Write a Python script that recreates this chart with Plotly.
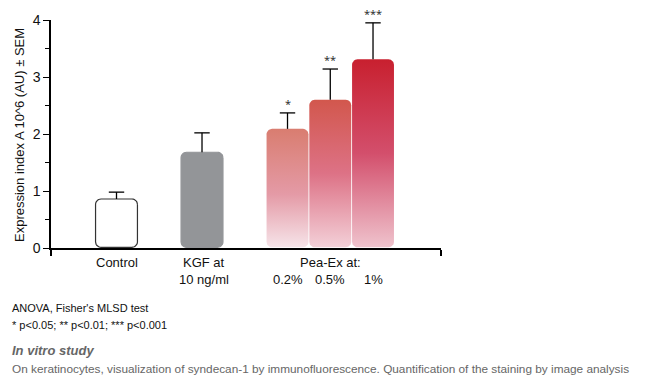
import plotly.graph_objects as go
import numpy as np

# ---- data ----
categories = ["Control", "KGF at 10 ng/ml", "Pea-Ex at 0.2%", "Pea-Ex at 0.5%", "Pea-Ex at 1%"]
values = [0.86, 1.68, 2.09, 2.60, 3.31]
sem = [0.12, 0.34, 0.28, 0.54, 0.64]
signif = ["", "", "*", "**", "***"]
y_ticks = [0, 1, 2, 3, 4]

# ---- layout constants ----
positions = [0.0, 1.0, 2.0, 2.5, 3.0]
bar_w = 0.49
x_range = [-0.766, 3.795]
y_range = [0, 4]
plot_w_px, plot_h_px = 390, 228
rx = 5.5 * (x_range[1] - x_range[0]) / plot_w_px
ry = 5.5 * (y_range[1] - y_range[0]) / plot_h_px

fills = [
    dict(kind="solid", color="white", line="#333333"),
    dict(kind="solid", color="#939598", line="#939598"),
    dict(kind="grad", scale=[[0, "#f6e4e9"], [0.45, "#e49aa6"], [1, "#d97d70"]]),
    dict(kind="grad", scale=[[0, "#f3d0d8"], [0.5, "#dd7286"], [1, "#d2574d"]]),
    dict(kind="grad", scale=[[0, "#efc3cd"], [0.5, "#d34f6c"], [1, "#c8202f"]]),
]


def rounded_rect(x0, x1, y0, y1, rx, ry, n=8):
    xs, ys = [], []
    corners = [
        (x1 - rx, y1 - ry, 0, 90),
        (x0 + rx, y1 - ry, 90, 180),
        (x0 + rx, y0 + ry, 180, 270),
        (x1 - rx, y0 + ry, 270, 360),
    ]
    for cx, cy, a0, a1 in corners:
        for t in np.linspace(np.radians(a0), np.radians(a1), n):
            xs.append(cx + rx * np.cos(t))
            ys.append(cy + ry * np.sin(t))
    xs.append(xs[0])
    ys.append(ys[0])
    return xs, ys


fig = go.Figure()

for i, (cat, v) in enumerate(zip(categories, values)):
    xc = positions[i]
    xs, ys = rounded_rect(xc - bar_w / 2, xc + bar_w / 2, 0.012, v, rx, ry)
    f = fills[i]
    if f["kind"] == "solid":
        fig.add_trace(go.Scatter(
            x=xs, y=ys, mode="lines", fill="toself", fillcolor=f["color"],
            line=dict(color=f["line"], width=1.2), name=cat,
            hoverinfo="skip", showlegend=False))
    else:
        fig.add_trace(go.Scatter(
            x=xs, y=ys, mode="lines", fill="toself",
            fillgradient=dict(type="vertical", colorscale=f["scale"]),
            line=dict(width=0), name=cat, hoverinfo="skip", showlegend=False))

# error bars (upper only, no cap at the bar top)
ex, ey = [], []
for xc, v, s in zip(positions, values, sem):
    ex += [xc, xc, None]
    ey += [v, v + s, None]
fig.add_trace(go.Scatter(x=ex, y=ey, mode="lines", line=dict(color="black", width=1.3),
                         showlegend=False, hoverinfo="skip"))
fig.add_trace(go.Scatter(
    x=positions, y=[v + s for v, s in zip(values, sem)], mode="markers",
    marker=dict(symbol="line-ew-open", size=11, color="black",
                line=dict(color="black", width=1.3)),
    showlegend=False, hoverinfo="skip"))

annotations = []
# significance stars
for xc, v, s, sg in zip(positions, values, sem, signif):
    if sg:
        annotations.append(dict(x=xc, y=v + s, xref="x", yref="y", text=sg,
                                showarrow=False, yanchor="bottom", yshift=0,
                                font=dict(size=11, color="#222")))

sans = "Liberation Sans, Arial, sans-serif"
label_font = dict(family=sans, size=13, color="#111")
# category labels
annotations.append(dict(x=positions[0], y=-0.065, xref="x", yref="paper", text="Control",
                        showarrow=False, yanchor="middle", font=label_font))
annotations.append(dict(x=positions[1] + 0.02, y=-0.065, xref="x", yref="paper", text="KGF at",
                        showarrow=False, yanchor="middle", font=label_font))
annotations.append(dict(x=positions[1] + 0.02, y=-0.14, xref="x", yref="paper", text="10 ng/ml",
                        showarrow=False, yanchor="middle", font=label_font))
annotations.append(dict(x=positions[3], y=-0.065, xref="x", yref="paper", text="Pea-Ex at:",
                        showarrow=False, yanchor="middle", font=label_font))
for xc, cat in zip(positions[2:], categories[2:]):
    annotations.append(dict(x=xc, y=-0.14, xref="x", yref="paper", text=cat.split(" ")[-1],
                            showarrow=False, yanchor="middle", font=label_font))

# y title
annotations.append(dict(x=(19 - 51) / plot_w_px, y=(248 - 135) / plot_h_px,
                        xref="paper", yref="paper", xanchor="center", yanchor="middle",
                        text="Expression index A 10^6 (AU) ± SEM", textangle=-90,
                        showarrow=False, font=dict(family=sans, size=13, color="#111")))

# footnotes
foot = [
    ("ANOVA, Fisher's MLSD test", 308, "#111", 11),
    ("* p<0.05; ** p<0.01; *** p<0.001", 325, "#111", 11),
    ("<b><i>In vitro study</i></b>", 350, "#666", 13),
    ("On keratinocytes, visualization of syndecan-1 by immunofluorescence. Quantification of the staining by image analysis", 369, "#666", 11.8),
]
for txt, ypx, col, fs in foot:
    annotations.append(dict(x=(10 - 51) / plot_w_px, y=(248 - ypx) / plot_h_px,
                            xref="paper", yref="paper", text=txt, showarrow=False,
                            xanchor="left", yanchor="middle",
                            font=dict(family=sans, size=fs, color=col)))

fig.update_layout(
    width=656, height=387,
    margin=dict(l=51, r=215, t=20, b=139),
    paper_bgcolor="white", plot_bgcolor="white",
    showlegend=False,
    annotations=annotations,
    xaxis=dict(range=x_range, showgrid=False, zeroline=False, showline=True,
               linecolor="black", linewidth=1.5, tickmode="array", tickvals=x_range,
               ticktext=["", ""], ticks="outside", ticklen=6, tickwidth=1.5,
               tickcolor="black", fixedrange=True),
    yaxis=dict(range=y_range, showgrid=False, zeroline=False, showline=True,
               linecolor="black", linewidth=1.5, tickmode="array", tickvals=y_ticks,
               ticks="outside", ticklen=6, tickwidth=1.3, tickcolor="black",
               tickfont=dict(family=sans, size=14, color="#111"),
               minor=dict(tickmode="array", tickvals=[0.5, 1.5, 2.5, 3.5], ticks="outside",
                          ticklen=4, tickwidth=1.3, tickcolor="black"),
               fixedrange=True),
)

fig.write_html("out.html", config={"displayModeBar": False},
               post_script="document.body.style.margin='0';")
